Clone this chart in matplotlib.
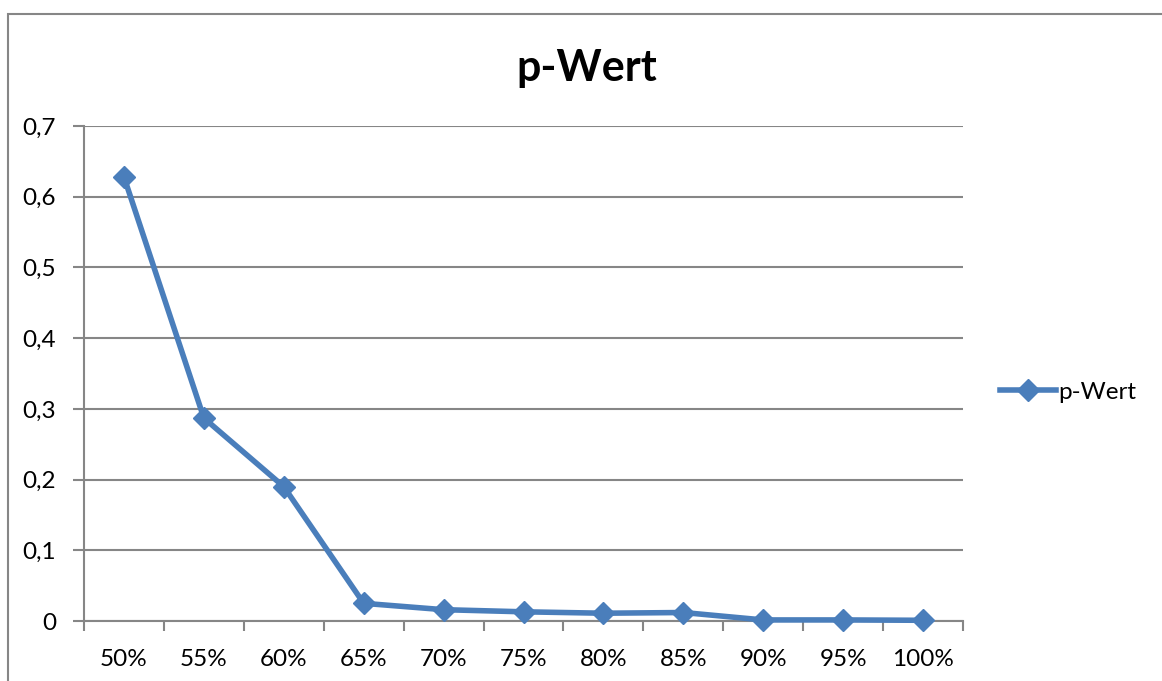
import matplotlib
matplotlib.use("Agg")
import matplotlib.pyplot as plt
from matplotlib.patches import Rectangle
import numpy as np

plt.rcParams['font.family'] = ['Lato', 'DejaVu Sans']

# p-values per threshold
categories = ["50%", "55%", "60%", "65%", "70%", "75%", "80%", "85%", "90%", "95%", "100%"]
p_wert = [0.628, 0.287, 0.190, 0.025, 0.016, 0.013, 0.011, 0.012, 0.0015, 0.0015, 0.001]
y_ticks = [0, 0.1, 0.2, 0.3, 0.4, 0.5, 0.6, 0.7]
y_labels = ["0", "0,1", "0,2", "0,3", "0,4", "0,5", "0,6", "0,7"]

grey = "#868686"
blue = "#4a7ebb"

fig = plt.figure(figsize=(11.62, 6.81), dpi=100)

# chart frame (runs off the right and bottom edge)
fig.patches.append(Rectangle((8 / 1162, -0.1), 1.2, (681 - 14) / 681 + 0.1,
                             transform=fig.transFigure, fill=False,
                             edgecolor=grey, linewidth=1.5))

ax = fig.add_axes([84 / 1162, 60 / 681, (963 - 84) / 1162, (621 - 126) / 681])

x = np.arange(len(categories))
ax.plot(x, p_wert, color=blue, linewidth=4, marker="D", markersize=11,
        markeredgecolor=blue, label="p-Wert", clip_on=False, zorder=3)

ax.set_xlim(-0.5, len(categories) - 0.5)
ax.set_ylim(0, 0.7)
ax.set_yticks(y_ticks)
ax.set_yticklabels(y_labels)
ax.set_xticks(x)
ax.set_xticklabels(categories)
ax.set_xticks(np.arange(-0.5, len(categories), 1), minor=True)

ax.tick_params(axis="x", which="major", length=0, pad=20, labelsize=17.5)
ax.tick_params(axis="x", which="minor", length=7, width=1.5, color=grey)
ax.tick_params(axis="y", length=8, width=1.5, color=grey, labelsize=17.5, pad=12)

ax.yaxis.grid(True, color=grey, linewidth=1.5)
ax.set_axisbelow(True)
for side in ["top", "right"]:
    ax.spines[side].set_visible(False)
for side in ["left", "bottom"]:
    ax.spines[side].set_color(grey)
    ax.spines[side].set_linewidth(1.5)

fig.text(587 / 1162, 1 - 68 / 681, "p-Wert", ha="center", va="center",
         fontsize=31, fontweight="bold")

ax.legend(loc="center left", bbox_to_anchor=(1000 / 1162, 1 - 392 / 681),
          bbox_transform=fig.transFigure, frameon=False, fontsize=17.5,
          handlelength=2.3, handletextpad=0.1, borderpad=0, borderaxespad=0)

fig.savefig("out.png", dpi=100)
